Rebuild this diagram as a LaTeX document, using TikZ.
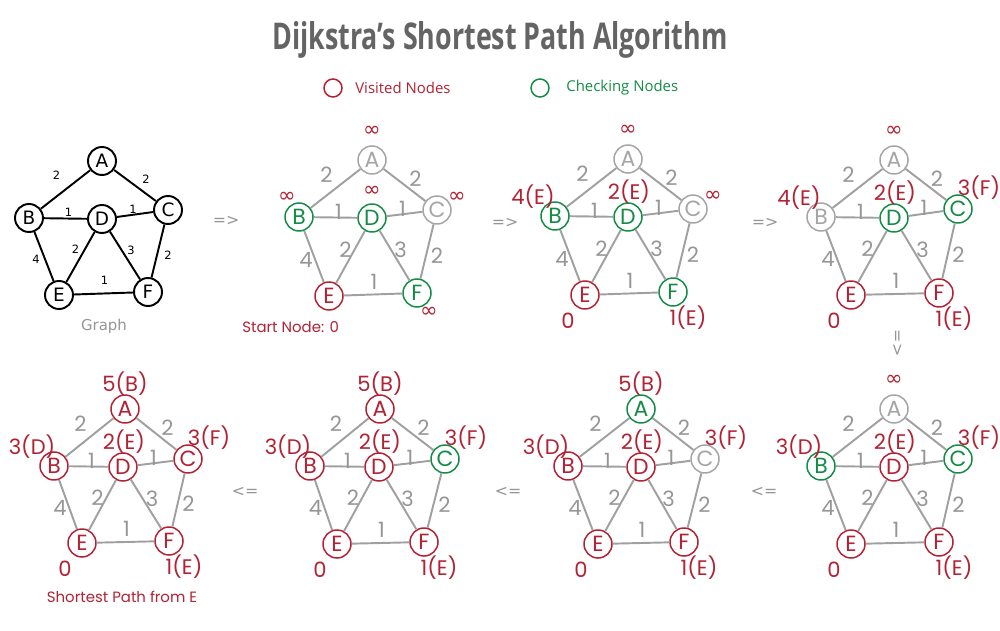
\documentclass[tikz,border=0pt]{standalone}
\usepackage{fontspec}
\setmainfont{Poppins}
\newfontfamily\opensans{Open Sans}
\newfontfamily\dejavu{DejaVu Sans}
\usetikzlibrary{positioning}

\definecolor{visred}{RGB}{178,34,52}
\definecolor{chkgreen}{RGB}{20,140,70}
\definecolor{unvgray}{RGB}{165,165,165}
\definecolor{edgegray}{RGB}{160,160,160}
\definecolor{wtgray}{RGB}{150,150,150}
\definecolor{titlegray}{RGB}{100,100,100}

\newcommand{\inft}{{\dejavu ∞}}

\tikzset{
  nd/.style={circle,fill=white,line width=0.85pt,minimum size=0.56cm,inner sep=0pt,font=\fontsize{12.5}{12.5}\selectfont},
  vis/.style={nd,draw=visred,text=visred},
  chk/.style={nd,draw=chkgreen,text=chkgreen},
  unv/.style={nd,draw=unvgray,text=unvgray},
  pl/.style={nd,draw=black,line width=1.1pt,font=\dejavu\fontsize{10.5}{10.5}\selectfont},
  gline/.style={draw=edgegray,line width=1.1pt},
  wt/.style={text=wtgray,inner sep=0pt,font=\fontsize{12}{12}\selectfont},
  lab/.style={text=visred,inner sep=0pt,anchor=center,font=\fontsize{12}{12}\selectfont},
  % distances next to a node
  vA/.style={label={[lab,shift={(0,-10.6)}]above:#1}},
  vB/.style={label={[lab,shift={(-22,-5.1)}]above:#1}},
  vC/.style={label={[lab,shift={(21,-6.6)}]above:#1}},
  vD/.style={label={[lab,shift={(1,-11.1)}]above:#1}},
  vE/.style={label={[lab,shift={(-17,40.4)}]above:#1}},
  vF/.style={label={[lab,shift={(15,39.9)}]above:#1}},
  iA/.style={label={[lab,shift={(0,-13.6)}]above:\inft}},
  iB/.style={label={[lab,shift={(-12,-4.6)}]above:\inft}},
  iC/.style={label={[lab,shift={(20,2.4)}]above:\inft}},
  iD/.style={label={[lab,shift={(0,-11.6)}]above:\inft}},
  iF/.style={label={[lab,shift={(12,34.4)}]above:\inft}},
  arr/.style={text=wtgray,font=\dejavu\fontsize{9}{9}\selectfont},
  note/.style={text=visred,font=\fontsize{8.5}{8.5}\selectfont},
  gcaption/.style={text=wtgray,font=\dejavu\fontsize{8.5}{8.5}\selectfont},
  legc/.style={circle,line width=0.85pt,minimum size=0.36cm,inner sep=0pt},
  leg/.style={anchor=west,inner sep=0pt,font=\opensans\fontsize{8.5}{8.5}\selectfont},
}

\newcommand{\penedges}[1]{%
  \draw[gline] (#1A) -- node[wt,shift={(-9,-14)}] {2} (#1B);
  \draw[gline] (#1A) -- node[wt,shift={(11,-6)}] {2} (#1C);
  \draw[gline] (#1B) -- node[wt,shift={(3,-6)}] {1} (#1D);
  \draw[gline] (#1D) -- node[wt,shift={(-2,-5.5)}] {1} (#1C);
  \draw[gline] (#1B) -- node[wt,shift={(-8,3)}] {4} (#1E);
  \draw[gline] (#1D) -- node[wt,shift={(-5,-7.5)}] {2} (#1E);
  \draw[gline] (#1D) -- node[wt,shift={(6,-5.5)}] {3} (#1F);
  \draw[gline] (#1C) -- node[wt,shift={(10,4)}] {2} (#1F);
  \draw[gline] (#1E) -- node[wt,shift={(1,-13)}] {1} (#1F);
}

\begin{document}
\begin{tikzpicture}[x=0.02cm,y=-0.02cm]
  \fill[white] (0,0) rectangle (1000,631);
  \useasboundingbox (0,0) rectangle (1000,631);

  \node[anchor=base,text=titlegray,inner sep=0pt,font=\opensans\bfseries] (title) at (500,50)
    {\resizebox{9.1cm}{0.56cm}{Dijkstra’s Shortest Path Algorithm}};

  % legend
  \node[legc,draw=visred] (legv) at (333,88) {};
  \node[leg,text=visred] (legvt) at (355,88) {Visited Nodes};
  \node[legc,draw=chkgreen] (legk) at (540,88) {};
  \node[leg,text=chkgreen] (legkt) at (566,88) {Checking Nodes};

  % the graph
  \begin{scope}[shift={(102,161)}]
    \node[pl] (aA) at (0,0) {A};
    \node[pl] (aB) at (-73,57) {B};
    \node[pl] (aD) at (0,58) {D};
    \node[pl] (aC) at (66,49) {C};
    \node[pl] (aE) at (-43,134) {E};
    \node[pl] (aF) at (46,131) {F};
    \node[gcaption] (agraph) at (2,165) {Graph};
  \end{scope}
  \begin{scope}[gline/.style={draw=black,line width=1.1pt},
      wt/.style={inner sep=0pt,font=\dejavu\fontsize{6.5}{6.5}\selectfont}]
    \penedges{a}
  \end{scope}

  % step 1
  \begin{scope}[shift={(372,160)}]
    \node[unv,iA] (bA) at (0,0) {A};
    \node[chk,iB] (bB) at (-73,57) {B};
    \node[chk,iD] (bD) at (0,58) {D};
    \node[unv,iC] (bC) at (65,50) {C};
    \node[vis] (bE) at (-43,136) {E};
    \node[chk,iF] (bF) at (45,133) {F};
    \node[note,anchor=west,inner sep=0pt] (bstart) at (-130,167) {Start Node: 0};
  \end{scope}

  % step 2
  \begin{scope}[shift={(628,159)}]
    \node[unv,iA] (cA) at (0,0) {A};
    \node[chk,vB=4(E)] (cB) at (-73,57) {B};
    \node[chk,vD=2(E)] (cD) at (0,58) {D};
    \node[unv,iC] (cC) at (65,50) {C};
    \node[vis,vE=0] (cE) at (-43,136) {E};
    \node[chk,vF=1(E)] (cF) at (45,133) {F};
  \end{scope}

  % step 3
  \begin{scope}[shift={(894,160)}]
    \node[unv,iA] (dA) at (0,0) {A};
    \node[unv,vB=4(E)] (dB) at (-73,57) {B};
    \node[chk,vD=2(E)] (dD) at (0,58) {D};
    \node[chk,vC=3(F)] (dC) at (64,49) {C};
    \node[vis,vE=0] (dE) at (-43,135) {E};
    \node[vis,vF=1(E)] (dF) at (45,133) {F};
  \end{scope}

  % step 4
  \begin{scope}[shift={(894,409)}]
    \node[unv,iA] (eA) at (0,0) {A};
    \node[chk,vB=3(D)] (eB) at (-73,57) {B};
    \node[vis,vD=2(E)] (eD) at (0,58) {D};
    \node[chk,vC=3(F)] (eC) at (64,50) {C};
    \node[vis,vE=0] (eE) at (-43,135) {E};
    \node[vis,vF=1(E)] (eF) at (45,133) {F};
  \end{scope}

  % step 5
  \begin{scope}[shift={(641,409)}]
    \node[chk,vA=5(B)] (fA) at (0,0) {A};
    \node[vis,vB=3(D)] (fB) at (-73,57) {B};
    \node[vis,vD=2(E)] (fD) at (0,58) {D};
    \node[unv,vC=3(F)] (fC) at (64,50) {C};
    \node[vis,vE=0] (fE) at (-43,135) {E};
    \node[vis,vF=1(E)] (fF) at (43,133) {F};
  \end{scope}

  % step 6
  \begin{scope}[shift={(380,409)}]
    \node[vis,vA=5(B)] (gA) at (0,0) {A};
    \node[vis,vB=3(D)] (gB) at (-70,57) {B};
    \node[vis,vD=2(E)] (gD) at (-1,58) {D};
    \node[chk,vC=3(F)] (gC) at (65,50) {C};
    \node[vis,vE=0] (gE) at (-43,135) {E};
    \node[vis,vF=1(E)] (gF) at (44,133) {F};
  \end{scope}

  % result
  \begin{scope}[shift={(125,409)}]
    \node[vis,vA=5(B)] (hA) at (0,0) {A};
    \node[vis,vB=3(D)] (hB) at (-71,57) {B};
    \node[vis,vD=2(E)] (hD) at (-2,58) {D};
    \node[vis,vC=3(F)] (hC) at (63,50) {C};
    \node[vis,vE=0] (hE) at (-43,134) {E};
    \node[vis,vF=1(E)] (hF) at (44,132) {F};
    \node[note] (hres) at (-3,188) {Shortest Path from E};
  \end{scope}

  \foreach \g in {b,c,d,e,f,g,h}
    {\penedges{\g}}

  % steps
  \node[arr] (s1) at (226,221) {=>};
  \node[arr] (s2) at (505,223) {=>};
  \node[arr] (s3) at (765,223) {=>};
  \node[arr,rotate=-90] (s4) at (897,343) {=>};
  \node[arr] (s5) at (764,492) {<=};
  \node[arr] (s6) at (508,492) {<=};
  \node[arr] (s7) at (245,492) {<=};
\end{tikzpicture}
\end{document}
